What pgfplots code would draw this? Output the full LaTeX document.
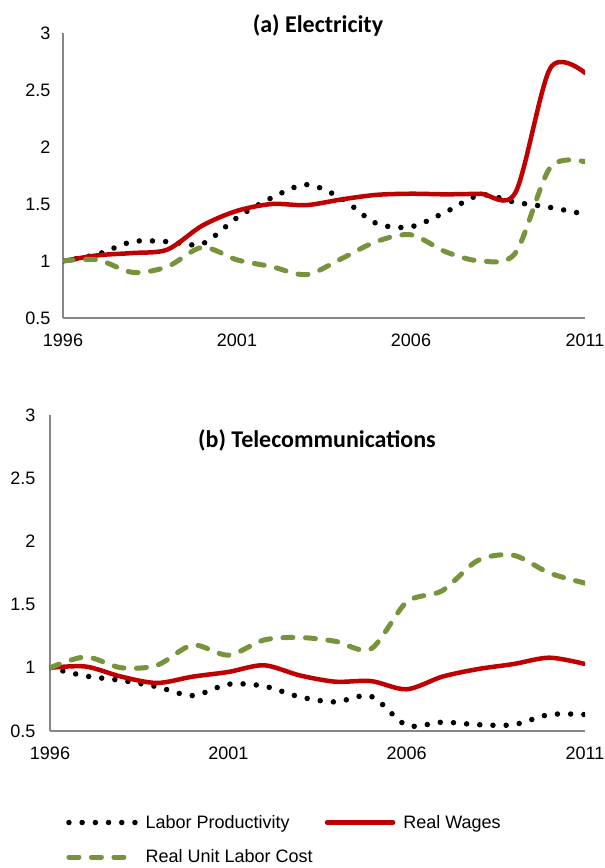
\documentclass[border=0pt]{standalone}
\usepackage{pgfplots}
\pgfplotsset{compat=1.18}
\usepackage{fontspec}
\setmainfont{Liberation Sans}
\newfontfamily\titlefont{Carlito}
\definecolor{rwred}{RGB}{192,0,0}
\definecolor{ulcgreen}{RGB}{119,147,60}
\definecolor{axgray}{RGB}{134,134,134}
\pgfplotsset{
  common/.style={
    scale only axis, axis x line*=bottom, axis y line*=left,
    axis line style={draw=axgray, line width=1.3pt},
    xmin=1996,xmax=2011,ymin=0.5,ymax=3,
    xtick={1996,2001,2006,2011}, xticklabels={1996,2001,2006,2011},
    ytick={0.5,1,1.5,2,2.5,3},
    major tick length=0pt,
    tick label style={font=\fontsize{18}{20}\selectfont},
    /pgf/number format/assume math mode=true,
    xticklabel style={yshift=-12pt},
    every axis title shift=0pt,
    title style={font=\titlefont\bfseries\fontsize{24}{26}\selectfont, anchor=base},
  },
  lp/.style={black, line width=5.5pt, line cap=round, dash pattern=on 0pt off 13.2pt, smooth},
  rw/.style={rwred, line width=4.5pt, line cap=round, smooth},
  ulc/.style={ulcgreen, line width=5pt, line cap=round, dash pattern=on 10pt off 12.5pt, smooth},
}
\begin{document}
\begin{tikzpicture}[x=1pt,y=1pt]
\useasboundingbox (0,0) rectangle (605,868);
\begin{axis}[common,
  at={(63pt,550pt)}, anchor=south west, width=522pt, height=285pt,
  yticklabel style={xshift=-9pt},
  title={(a) Electricity}, title style={at={(0.4885,1.0)}}]
\addplot[lp] coordinates {(1996,1.00)(1997,1.06)(1998,1.17)(1999,1.17)(2000,1.15)(2001,1.38)(2002,1.555)(2003,1.67)(2004,1.55)(2005,1.33)(2006,1.30)(2007,1.43)(2008,1.58)(2009,1.515)(2010,1.47)(2011,1.41)};
\addplot[rw] coordinates {(1996,1.00)(1997,1.05)(1998,1.07)(1999,1.10)(2000,1.31)(2001,1.44)(2002,1.50)(2003,1.49)(2004,1.54)(2005,1.58)(2006,1.59)(2007,1.585)(2008,1.59)(2009,1.60)(2010,2.69)(2011,2.65)};
\addplot[ulc] coordinates {(1996,1.00)(1997,1.01)(1998,0.90)(1999,0.95)(2000,1.12)(2001,1.01)(2002,0.95)(2003,0.88)(2004,1.02)(2005,1.17)(2006,1.23)(2007,1.08)(2008,1.00)(2009,1.07)(2010,1.82)(2011,1.87)};
\end{axis}
\begin{axis}[common,
  at={(50pt,137pt)}, anchor=south west, width=535pt, height=316pt,
  yticklabel style={xshift=-11pt},
  title={(b) Telecommunications}, title style={at={(0.499,0.8956)}},
  legend style={at={(axis description cs:0.0299,-0.2596)}, anchor=north west, draw=none, fill=none, inner sep=0pt,
    font=\fontsize{18}{20}\selectfont, legend columns=2, row sep=16pt,
    /tikz/every odd column/.append style={column sep=6pt},
    /tikz/every even column/.append style={column sep=10pt}},
  legend cell align=left,
  legend image code/.code={\draw[#1] (0pt,0pt) -- (66pt,0pt);}]
\addplot[lp] coordinates {(1996,1.00)(1997,0.935)(1998,0.90)(1999,0.85)(2000,0.78)(2001,0.87)(2002,0.855)(2003,0.77)(2004,0.73)(2005,0.775)(2006,0.545)(2007,0.57)(2008,0.55)(2009,0.55)(2010,0.63)(2011,0.63)};
\addlegendentry{Labor Productivity}
\addplot[rw] coordinates {(1996,1.00)(1997,1.01)(1998,0.93)(1999,0.88)(2000,0.93)(2001,0.967)(2002,1.02)(2003,0.94)(2004,0.89)(2005,0.895)(2006,0.83)(2007,0.93)(2008,0.99)(2009,1.03)(2010,1.08)(2011,1.03)};
\addlegendentry{Real Wages}
\addplot[ulc] coordinates {(1996,1.00)(1997,1.086)(1998,1.00)(1999,1.02)(2000,1.18)(2001,1.10)(2002,1.22)(2003,1.24)(2004,1.21)(2005,1.15)(2006,1.52)(2007,1.61)(2008,1.85)(2009,1.89)(2010,1.75)(2011,1.67)};
\addlegendentry{Real Unit Labor Cost}
\end{axis}
\end{tikzpicture}
\end{document}
